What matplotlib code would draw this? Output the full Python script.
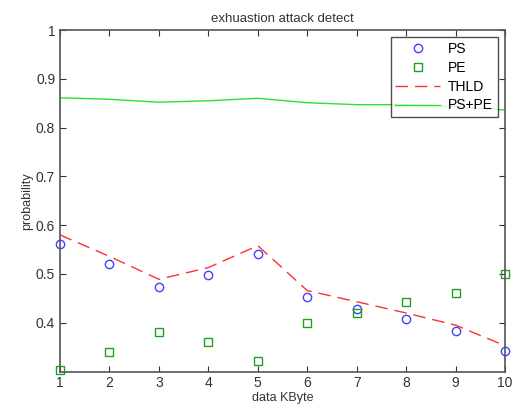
import numpy as np
import matplotlib
matplotlib.use("Agg")
import matplotlib.pyplot as plt

plt.rcParams['font.family'] = ['Liberation Sans', 'DejaVu Sans']

# data
x = np.arange(1, 11)
ps = [0.562, 0.520, 0.474, 0.497, 0.541, 0.452, 0.428, 0.407, 0.384, 0.342]
pe = [0.303, 0.341, 0.382, 0.361, 0.322, 0.400, 0.420, 0.442, 0.461, 0.499]
thld = [0.580, 0.536, 0.489, 0.513, 0.558, 0.466, 0.443, 0.420, 0.395, 0.353]
pspe = [0.861, 0.858, 0.852, 0.855, 0.860, 0.851, 0.847, 0.847, 0.843, 0.836]
yticks = [0.4, 0.5, 0.6, 0.7, 0.8, 0.9, 1.0]
ytick_labels = ['0.4', '0.5', '0.6', '0.7', '0.8', '0.9', '1']

fig = plt.figure(figsize=(5.15, 4.04), dpi=100)
ax = fig.add_axes([0.1165, 0.0804, 0.864, 0.8453])

ax.plot(x, ps, 'o', mfc='none', mec='#4040ff', ms=6, mew=1.0, label='PS', clip_on=False)
ax.plot(x, pe, 's', mfc='none', mec='#20a020', ms=6, mew=1.0, label='PE', clip_on=False)
ax.plot(x, thld, '--', color='#ff3030', lw=1.0, dashes=(9, 5), label='THLD')
ax.plot(x, pspe, '-', color='#30e030', lw=1.0, label='PS+PE')

ax.set_xlim(1, 10)
ax.set_ylim(0.3, 1)
ax.set_xticks(x)
ax.set_yticks(yticks)
ax.set_yticklabels(ytick_labels)
ax.tick_params(direction='in', top=True, right=True, length=4, labelsize=10, colors='#333333')
for s in ax.spines.values():
    s.set_color('#555555')
    s.set_linewidth(1.2)

ax.set_title('exhuastion attack detect', fontsize=9.5, color='#333333', pad=6)
ax.set_xlabel('data KByte', fontsize=9, color='#333333', labelpad=1)
ax.set_ylabel('probability', fontsize=9, color='#333333', labelpad=2)

leg = ax.legend(loc='upper right', fontsize=10, frameon=True, fancybox=False,
                borderaxespad=0.5, handlelength=3.2, labelspacing=0.35, borderpad=0.35,
                handletextpad=0.6)
leg.get_frame().set_edgecolor('#222222')
leg.get_frame().set_linewidth(1.0)

fig.savefig('out.png', dpi=100)
